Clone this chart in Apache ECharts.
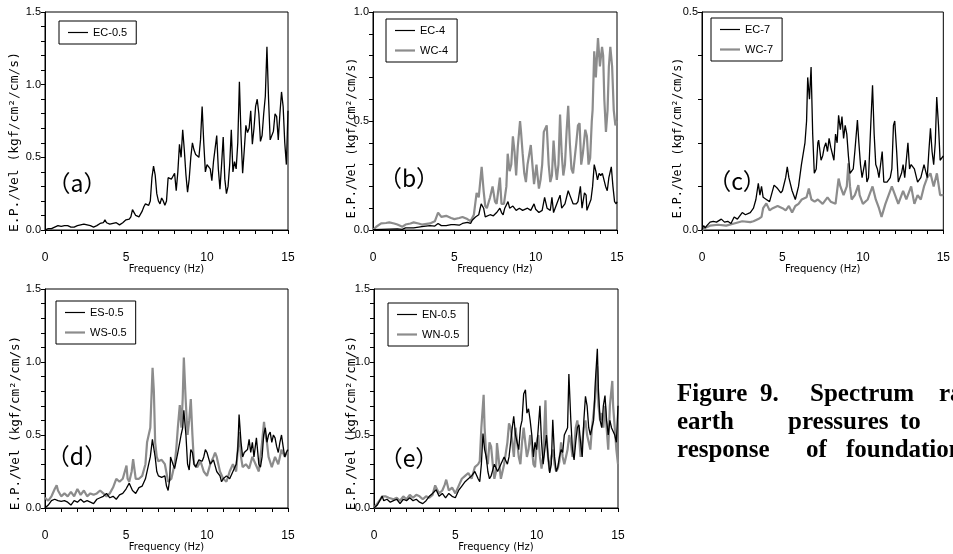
<!DOCTYPE html>
<html><head><meta charset="utf-8">
<script src="https://cdn.jsdelivr.net/npm/echarts@6/dist/echarts.min.js"></script>
<style>html,body{margin:0;padding:0;background:#fff;}#c{width:953px;height:554px;}</style>
</head><body><div id="c"></div>
<script>
// ---- data: [frequency (Hz), E.P./Vel] ----
const EC_05 = [[0,0],[0.1,0.005],[0.2,0.01],[0.3,0.01],[0.4,0.01],[0.5,0.015],[0.6,0.02],[0.7,0.03],[0.8,0.03],[0.9,0.03],
[1,0.025],[1.1,0.03],[1.2,0.03],[1.3,0.035],[1.4,0.03],[1.5,0.025],[1.6,0.02],[1.7,0.015],[1.8,0.02],[1.9,0.025],
[2,0.03],[2.1,0.025],[2.2,0.035],[2.3,0.03],[2.4,0.04],[2.5,0.045],[2.6,0.035],[2.7,0.03],[2.8,0.03],[2.9,0.025],
[3,0.02],[3.1,0.025],[3.2,0.03],[3.3,0.04],[3.4,0.045],[3.5,0.05],[3.6,0.05],[3.7,0.07],[3.8,0.05],[3.9,0.045],
[4,0.04],[4.1,0.05],[4.2,0.045],[4.3,0.04],[4.4,0.05],[4.5,0.045],[4.6,0.035],[4.7,0.035],[4.8,0.05],[4.9,0.06],
[5,0.07],[5.1,0.07],[5.2,0.075],[5.3,0.09],[5.4,0.14],[5.5,0.12],[5.6,0.1],[5.7,0.1],[5.8,0.09],[5.9,0.09],
[6,0.13],[6.1,0.16],[6.2,0.18],[6.3,0.19],[6.4,0.17],[6.5,0.2],[6.6,0.36],[6.7,0.44],[6.8,0.38],[6.9,0.25],
[7,0.2],[7.1,0.18],[7.2,0.22],[7.3,0.2],[7.4,0.17],[7.5,0.2],[7.6,0.36],[7.7,0.37],[7.8,0.35],[7.9,0.37],
[8,0.39],[8.1,0.27],[8.2,0.4],[8.3,0.59],[8.4,0.5],[8.5,0.69],[8.6,0.55],[8.7,0.38],[8.8,0.26],[8.9,0.35],
[9,0.5],[9.1,0.6],[9.2,0.55],[9.3,0.52],[9.4,0.53],[9.5,0.5],[9.6,0.62],[9.7,0.85],[9.8,0.6],[9.9,0.4],
[10,0.45],[10.1,0.44],[10.2,0.42],[10.3,0.34],[10.4,0.47],[10.5,0.48],[10.6,0.65],[10.7,0.42],[10.8,0.28],[10.9,0.45],
[11,0.64],[11.1,0.35],[11.2,0.25],[11.3,0.3],[11.4,0.45],[11.5,0.69],[11.6,0.4],[11.7,0.47],[11.8,0.42],[11.9,0.6],
[12,1.02],[12.1,0.65],[12.2,0.39],[12.3,0.55],[12.4,0.72],[12.5,0.67],[12.6,0.7],[12.7,0.82],[12.8,0.59],[12.9,0.7],
[13,0.85],[13.1,0.9],[13.2,0.8],[13.3,0.61],[13.4,0.65],[13.5,0.8],[13.6,0.92],[13.7,1.26],[13.8,0.9],[13.9,0.62],
[14,0.62],[14.1,0.68],[14.2,0.8],[14.3,0.78],[14.4,0.62],[14.5,0.8],[14.6,0.95],[14.7,0.85],[14.8,0.6],[14.9,0.45],[15,0.82]];

const EC_4 = [[0,0.002],[0.5,0.003],[1,0.004],[1.5,0.005],[1.8,0.003],[2,0.01],[2.5,0.01],[3,0.015],[3.5,0.02],[3.8,0.018],[4,0.03],[4.2,0.02],[4.5,0.02],[4.8,0.025],[5,0.025],[5.3,0.022],[5.5,0.03],[5.8,0.035],[6,0.03],[6.1,0.045],[6.3,0.06],[6.5,0.07],[6.65,0.12],[6.8,0.1],[6.9,0.06],[7,0.06],[7.2,0.07],[7.4,0.065],[7.6,0.08],[7.8,0.1],[7.9,0.08],[8,0.07],[8.1,0.1],[8.3,0.13],[8.4,0.1],[8.6,0.11],[8.8,0.09],[9,0.1],[9.2,0.09],[9.5,0.1],[9.7,0.09],[9.9,0.12],[10,0.095],[10.2,0.08],[10.4,0.09],[10.55,0.15],[10.7,0.1],[10.9,0.09],[11,0.15],[11.1,0.08],[11.3,0.12],[11.5,0.16],[11.6,0.1],[11.8,0.12],[12,0.18],[12.1,0.16],[12.3,0.12],[12.5,0.12],[12.6,0.13],[12.75,0.2],[12.85,0.1],[13,0.17],[13.1,0.16],[13.15,0.09],[13.4,0.14],[13.5,0.2],[13.6,0.3],[13.7,0.27],[13.8,0.23],[13.9,0.26],[14,0.25],[14.1,0.26],[14.3,0.2],[14.4,0.18],[14.5,0.24],[14.65,0.29],[14.75,0.2],[14.85,0.13],[14.95,0.12],[15,0.13]];

const WC_4 = [[0,0],[0.2,0.015],[0.5,0.03],[0.8,0.032],[1,0.035],[1.3,0.03],[1.5,0.025],[1.8,0.015],[2,0.025],[2.3,0.03],[2.5,0.035],[2.8,0.03],[3,0.025],[3.3,0.028],[3.5,0.03],[3.8,0.04],[4,0.08],[4.2,0.06],[4.5,0.065],[4.8,0.055],[5,0.05],[5.3,0.055],[5.5,0.06],[5.8,0.05],[6,0.04],[6.2,0.07],[6.37,0.17],[6.5,0.15],[6.68,0.29],[6.8,0.18],[6.9,0.11],[7,0.1],[7.2,0.15],[7.35,0.2],[7.5,0.13],[7.6,0.12],[7.8,0.24],[7.9,0.12],[8.05,0.12],[8.2,0.2],[8.28,0.35],[8.4,0.27],[8.5,0.3],[8.6,0.43],[8.7,0.36],[8.8,0.25],[8.9,0.38],[9.04,0.5],[9.1,0.45],[9.2,0.35],[9.3,0.26],[9.4,0.22],[9.5,0.3],[9.7,0.39],[9.8,0.3],[9.9,0.21],[10.05,0.3],[10.1,0.26],[10.2,0.19],[10.3,0.23],[10.4,0.3],[10.5,0.45],[10.68,0.48],[10.8,0.3],[10.9,0.22],[11,0.25],[11.1,0.41],[11.2,0.3],[11.3,0.23],[11.4,0.3],[11.5,0.53],[11.6,0.35],[11.7,0.25],[11.8,0.3],[11.9,0.45],[12,0.57],[12.1,0.4],[12.2,0.28],[12.3,0.26],[12.4,0.33],[12.5,0.4],[12.6,0.48],[12.7,0.49],[12.8,0.3],[12.9,0.35],[13.05,0.46],[13.15,0.43],[13.25,0.3],[13.35,0.33],[13.45,0.5],[13.5,0.55],[13.6,0.82],[13.7,0.7],[13.83,0.88],[13.95,0.75],[14.08,0.84],[14.15,0.8],[14.22,0.6],[14.32,0.45],[14.42,0.55],[14.5,0.75],[14.59,0.84],[14.7,0.75],[14.8,0.55],[14.9,0.48],[15,0.5]];

const EC_7 = [[0,0],[0.1,0.01],[0.2,0.005],[0.3,0.01],[0.5,0.018],[0.7,0.02],[0.9,0.018],[1,0.02],[1.2,0.025],[1.4,0.018],[1.6,0.02],[1.8,0.015],[2,0.03],[2.2,0.025],[2.5,0.04],[2.7,0.035],[3,0.04],[3.2,0.05],[3.35,0.07],[3.5,0.107],[3.6,0.08],[3.7,0.1],[3.8,0.075],[4,0.07],[4.2,0.065],[4.48,0.103],[4.7,0.095],[4.9,0.085],[5,0.09],[5.2,0.12],[5.3,0.145],[5.4,0.12],[5.6,0.09],[5.8,0.07],[6,0.1],[6.18,0.15],[6.3,0.15],[6.4,0.2],[6.5,0.25],[6.57,0.35],[6.68,0.3],[6.78,0.374],[6.88,0.22],[6.98,0.13],[7.1,0.14],[7.2,0.2],[7.25,0.206],[7.4,0.16],[7.5,0.17],[7.6,0.19],[7.7,0.2],[7.8,0.18],[7.9,0.21],[8,0.19],[8.2,0.16],[8.3,0.22],[8.4,0.2],[8.49,0.263],[8.6,0.23],[8.7,0.26],[8.8,0.21],[8.9,0.24],[9,0.22],[9.1,0.17],[9.2,0.13],[9.4,0.14],[9.5,0.18],[9.66,0.252],[9.75,0.2],[9.85,0.15],[9.95,0.12],[10.05,0.14],[10.15,0.16],[10.25,0.11],[10.35,0.12],[10.5,0.25],[10.6,0.332],[10.7,0.22],[10.8,0.15],[10.9,0.14],[11,0.12],[11.2,0.18],[11.3,0.11],[11.5,0.11],[11.7,0.12],[11.8,0.14],[11.9,0.24],[11.98,0.25],[12.1,0.18],[12.2,0.11],[12.4,0.13],[12.5,0.15],[12.6,0.12],[12.8,0.2],[12.9,0.14],[13,0.15],[13.2,0.14],[13.4,0.11],[13.6,0.12],[13.8,0.15],[14,0.12],[14.1,0.18],[14.2,0.233],[14.3,0.18],[14.4,0.15],[14.5,0.2],[14.59,0.305],[14.7,0.24],[14.8,0.16],[14.9,0.16],[15,0.17]];

const WC_7 = [[0,0],[0.2,0.005],[0.5,0.01],[1,0.012],[1.5,0.01],[2,0.015],[2.5,0.02],[3,0.018],[3.2,0.02],[3.5,0.025],[3.7,0.03],[3.8,0.05],[4,0.061],[4.2,0.045],[4.4,0.05],[4.7,0.055],[5,0.05],[5.2,0.045],[5.4,0.055],[5.6,0.04],[5.8,0.055],[6,0.06],[6.2,0.07],[6.5,0.075],[6.64,0.095],[6.8,0.07],[7,0.065],[7.2,0.07],[7.5,0.06],[7.8,0.075],[8,0.065],[8.3,0.06],[8.49,0.118],[8.6,0.1],[8.8,0.08],[9,0.1],[9.1,0.153],[9.2,0.1],[9.3,0.07],[9.5,0.08],[9.72,0.103],[9.8,0.08],[10,0.06],[10.3,0.07],[10.6,0.1],[10.8,0.07],[11,0.05],[11.16,0.03],[11.4,0.06],[11.6,0.08],[11.8,0.1],[12,0.08],[12.2,0.06],[12.5,0.09],[12.7,0.07],[13,0.1],[13.2,0.06],[13.4,0.08],[13.6,0.07],[13.8,0.1],[14,0.12],[14.2,0.13],[14.4,0.1],[14.6,0.13],[14.8,0.08],[15,0.08]];

const ES_05 = [[0,0],[0.2,0.02],[0.4,0.05],[0.6,0.06],[0.8,0.05],[1,0.045],[1.2,0.05],[1.4,0.04],[1.6,0.02],[1.8,0.05],[2,0.04],[2.2,0.06],[2.4,0.04],[2.6,0.05],[2.8,0.04],[3,0.03],[3.2,0.06],[3.4,0.07],[3.6,0.08],[3.8,0.1],[4,0.07],[4.2,0.08],[4.4,0.06],[4.6,0.09],[4.8,0.1],[5,0.13],[5.2,0.17],[5.4,0.12],[5.6,0.1],[5.8,0.14],[6,0.15],[6.2,0.2],[6.4,0.3],[6.5,0.35],[6.63,0.47],[6.7,0.42],[6.8,0.35],[6.9,0.25],[7,0.22],[7.2,0.21],[7.4,0.22],[7.5,0.15],[7.6,0.12],[7.7,0.2],[7.75,0.35],[7.9,0.3],[8,0.27],[8.2,0.38],[8.4,0.5],[8.5,0.55],[8.57,0.67],[8.7,0.5],[8.8,0.3],[8.9,0.26],[9,0.4],[9.1,0.38],[9.2,0.3],[9.3,0.28],[9.5,0.33],[9.7,0.32],[9.8,0.35],[9.9,0.4],[10,0.38],[10.2,0.3],[10.4,0.33],[10.6,0.25],[10.8,0.22],[10.9,0.18],[11,0.2],[11.2,0.22],[11.4,0.2],[11.6,0.25],[11.8,0.3],[11.9,0.4],[11.98,0.64],[12.1,0.45],[12.2,0.35],[12.3,0.38],[12.4,0.37],[12.5,0.4],[12.6,0.47],[12.7,0.38],[12.8,0.45],[12.9,0.35],[13.05,0.48],[13.1,0.42],[13.2,0.3],[13.3,0.28],[13.4,0.35],[13.5,0.5],[13.6,0.55],[13.7,0.45],[13.8,0.5],[13.9,0.52],[14,0.45],[14.1,0.5],[14.2,0.48],[14.3,0.42],[14.4,0.38],[14.5,0.45],[14.6,0.5],[14.7,0.42],[14.8,0.35],[14.9,0.38],[15,0.4]];

const WS_05 = [[0,0.07],[0.2,0.05],[0.4,0.08],[0.6,0.13],[0.72,0.156],[0.8,0.12],[1,0.08],[1.2,0.1],[1.4,0.08],[1.6,0.11],[1.8,0.08],[2,0.13],[2.2,0.09],[2.4,0.12],[2.6,0.08],[2.8,0.1],[3,0.09],[3.2,0.1],[3.4,0.12],[3.6,0.1],[3.8,0.08],[4,0.1],[4.2,0.14],[4.4,0.2],[4.6,0.18],[4.8,0.2],[5.03,0.29],[5.1,0.2],[5.2,0.18],[5.35,0.25],[5.44,0.334],[5.6,0.2],[5.8,0.2],[6,0.22],[6.2,0.3],[6.3,0.45],[6.4,0.5],[6.5,0.55],[6.64,0.96],[6.72,0.8],[6.8,0.45],[6.9,0.35],[7,0.32],[7.2,0.33],[7.4,0.3],[7.6,0.18],[7.8,0.2],[8,0.3],[8.1,0.4],[8.2,0.55],[8.32,0.705],[8.42,0.55],[8.5,0.75],[8.57,1.03],[8.68,0.75],[8.8,0.5],[8.9,0.6],[9,0.746],[9.1,0.5],[9.2,0.3],[9.4,0.28],[9.6,0.32],[9.8,0.25],[10,0.22],[10.2,0.3],[10.4,0.35],[10.5,0.38],[10.6,0.35],[10.8,0.25],[11,0.2],[11.2,0.18],[11.4,0.25],[11.6,0.3],[11.8,0.25],[11.9,0.4],[12,0.52],[12.1,0.35],[12.2,0.28],[12.4,0.3],[12.6,0.27],[12.8,0.35],[13,0.3],[13.2,0.25],[13.4,0.45],[13.52,0.59],[13.6,0.5],[13.7,0.45],[13.8,0.35],[14,0.28],[14.2,0.35],[14.4,0.3],[14.6,0.4],[14.8,0.35],[15,0.4]];

const EN_05 = [[0,0],[0.2,0.02],[0.4,0.06],[0.5,0.08],[0.6,0.05],[0.8,0.06],[1,0.04],[1.2,0.05],[1.4,0.06],[1.6,0.03],[1.8,0.06],[2,0.05],[2.2,0.07],[2.4,0.05],[2.6,0.06],[2.8,0.04],[3,0.03],[3.2,0.05],[3.4,0.08],[3.6,0.1],[3.82,0.125],[4,0.08],[4.2,0.1],[4.4,0.07],[4.6,0.1],[4.8,0.08],[5,0.07],[5.2,0.12],[5.4,0.15],[5.6,0.18],[5.8,0.2],[6,0.22],[6.2,0.25],[6.4,0.2],[6.5,0.18],[6.6,0.3],[6.7,0.51],[6.8,0.4],[6.9,0.35],[7,0.25],[7.1,0.2],[7.2,0.22],[7.4,0.3],[7.6,0.25],[7.8,0.3],[8,0.35],[8.2,0.3],[8.3,0.35],[8.5,0.55],[8.59,0.628],[8.7,0.5],[8.8,0.45],[8.9,0.4],[9,0.55],[9.1,0.6],[9.2,0.78],[9.31,0.81],[9.4,0.65],[9.5,0.68],[9.6,0.6],[9.7,0.5],[9.8,0.35],[9.9,0.45],[10,0.4],[10.1,0.55],[10.2,0.7],[10.3,0.45],[10.4,0.3],[10.5,0.4],[10.6,0.5],[10.7,0.35],[10.8,0.24],[10.9,0.3],[10.99,0.605],[11.1,0.35],[11.2,0.25],[11.3,0.28],[11.4,0.35],[11.5,0.4],[11.6,0.38],[11.7,0.5],[11.8,0.5],[11.9,0.55],[11.98,0.918],[12.1,0.6],[12.2,0.4],[12.3,0.33],[12.4,0.45],[12.5,0.55],[12.6,0.57],[12.7,0.45],[12.8,0.35],[12.9,0.6],[13,0.765],[13.1,0.7],[13.2,0.55],[13.3,0.5],[13.4,0.5],[13.5,0.6],[13.6,0.85],[13.73,1.09],[13.8,0.8],[13.9,0.6],[14,0.55],[14.1,0.7],[14.2,0.77],[14.3,0.6],[14.4,0.5],[14.5,0.6],[14.6,0.55],[14.7,0.55],[14.8,0.5],[14.9,0.45],[15,0.7]];

const WN_05 = [[0,0],[0.2,0.03],[0.4,0.06],[0.5,0.08],[0.7,0.08],[0.9,0.07],[1,0.08],[1.2,0.06],[1.4,0.07],[1.6,0.05],[1.8,0.08],[2,0.06],[2.2,0.09],[2.4,0.07],[2.6,0.09],[2.8,0.08],[3,0.06],[3.2,0.08],[3.4,0.07],[3.6,0.09],[3.76,0.155],[4,0.1],[4.2,0.12],[4.35,0.16],[4.44,0.194],[4.6,0.12],[4.8,0.14],[5,0.1],[5.2,0.15],[5.4,0.2],[5.6,0.22],[5.8,0.24],[6,0.2],[6.2,0.28],[6.4,0.3],[6.5,0.32],[6.6,0.55],[6.74,0.776],[6.8,0.55],[6.9,0.35],[7,0.3],[7.1,0.45],[7.2,0.42],[7.3,0.3],[7.4,0.2],[7.5,0.25],[7.56,0.445],[7.7,0.3],[7.8,0.2],[8,0.3],[8.2,0.45],[8.3,0.58],[8.4,0.55],[8.5,0.45],[8.6,0.35],[8.7,0.55],[8.8,0.45],[8.9,0.35],[9,0.3],[9.1,0.45],[9.2,0.55],[9.3,0.45],[9.4,0.35],[9.5,0.4],[9.6,0.5],[9.7,0.42],[9.8,0.3],[9.9,0.28],[10,0.45],[10.1,0.5],[10.2,0.35],[10.3,0.27],[10.4,0.35],[10.54,0.737],[10.6,0.5],[10.7,0.35],[10.8,0.25],[10.9,0.35],[11,0.4],[11.1,0.3],[11.2,0.25],[11.3,0.27],[11.4,0.32],[11.5,0.45],[11.6,0.35],[11.7,0.3],[11.8,0.35],[11.9,0.4],[12,0.5],[12.1,0.45],[12.2,0.35],[12.3,0.4],[12.4,0.55],[12.5,0.6],[12.6,0.5],[12.7,0.35],[12.8,0.45],[12.9,0.55],[13,0.6],[13.1,0.5],[13.2,0.45],[13.3,0.4],[13.4,0.55],[13.5,0.65],[13.6,0.75],[13.72,0.97],[13.8,0.7],[13.9,0.6],[14,0.65],[14.1,0.55],[14.2,0.7],[14.3,0.55],[14.4,0.4],[14.5,0.7],[14.65,0.87],[14.7,0.7],[14.8,0.55],[14.9,0.4],[15,0.3]];

const panelLabels = ['（a）','（b）','（c）','（d）','（e）'];
const yMax = [1.5, 1.0, 0.5, 1.5, 1.5];
const xTitle = 'Frequency (Hz)';
const yTitle = 'E.P./Vel (kgf/cm²/cm/s)';
const captionLines = [['Figure','9.','Spectrum','ratio of'],['earth','pressures','to'],['response','of','foundation']];

// ---- layout ----
const grids = [
  {left:45, top:12, width:243, height:218},
  {left:373, top:12, width:244, height:218},
  {left:702, top:12, width:244, height:218},
  {left:45, top:289, width:243, height:219},
  {left:374, top:289, width:244, height:219}
];
const panelSeries = [
  [{name:'EC-0.5', data:EC_05, dark:true}],
  [{name:'WC-4', data:WC_4, dark:false},{name:'EC-4', data:EC_4, dark:true}],
  [{name:'WC-7', data:WC_7, dark:false},{name:'EC-7', data:EC_7, dark:true}],
  [{name:'WS-0.5', data:WS_05, dark:false},{name:'ES-0.5', data:ES_05, dark:true}],
  [{name:'WN-0.5', data:WN_05, dark:false},{name:'EN-0.5', data:EN_05, dark:true}]
];
const legendOrder = [['EC-0.5'],['EC-4','WC-4'],['EC-7','WC-7'],['ES-0.5','WS-0.5'],['EN-0.5','WN-0.5']];
const legendPos = [[59,21],[386,19],[711,18],[56,301],[388,303]];
const labelPos = [[77,183],[409,178],[737,181],[77,456],[409,458]];
const yTitlePos = [[15,142,13],[352,138,11.6],[678,138,11.6],[16,423,12.6],[352,423,12.6]];

const BLACK = '#000', GRAY = '#8c8c8c';
const sans = 'Liberation Sans, Arial, sans-serif';
const ICON_THIN = 'path://M0,0H40V2.4H0Z';
const ICON_THICK = 'path://M0,0H40V4.4H0Z';

const option = {
  animation:false,
  backgroundColor:'#fff',
  grid: grids.map(g => Object.assign({show:true, borderColor:'#000', borderWidth:1, backgroundColor:'transparent', containLabel:false}, g)),
  xAxis: grids.map((g,i)=>({
    gridIndex:i, type:'value', min:0, max:15, interval:5,
    axisLine:{show:true, onZero:false, lineStyle:{color:'#000', width:1}},
    axisTick:{show:true, length:4, lineStyle:{color:'#000'}},
    minorTick:{show:true, splitNumber:5, length:4, lineStyle:{color:'#000'}},
    splitLine:{show:false}, minorSplitLine:{show:false},
    axisLabel:{margin:22, fontSize:12, color:'#000', fontFamily:sans},
    name:xTitle, nameLocation:'middle', nameGap:33,
    nameTextStyle:{fontSize:10, color:'#000', fontFamily:'DejaVu Sans, sans-serif'}
  })),
  yAxis: grids.map((g,i)=>({
    gridIndex:i, type:'value', min:0, max:yMax[i], interval:0.5,
    axisLine:{show:true, onZero:false, lineStyle:{color:'#000', width:1}},
    axisTick:{show:true, length:4, lineStyle:{color:'#000'}},
    minorTick:{show:true, splitNumber:5, length:4, lineStyle:{color:'#000'}},
    splitLine:{show:false}, minorSplitLine:{show:false},
    axisLabel:{margin:4, fontSize:11, color:'#000', fontFamily:sans, formatter:v=>v.toFixed(1)}
  })),
  legend: legendOrder.map((names,i)=>({
    data:names.map(n=>({name:n, icon:(n[0]==='E'?ICON_THIN:ICON_THICK)})),
    orient:'vertical', left:legendPos[i][0], top:legendPos[i][1],
    itemWidth:20, itemHeight:12, itemGap:9, padding:[6,9,6,9], symbolKeepAspect:true,
    borderColor:'#000', borderWidth:1, backgroundColor:'#fff',
    textStyle:{fontSize:11, color:'#000', fontFamily:sans},
    selectedMode:false
  })),
  series: [],
  graphic: []
};

panelSeries.forEach((list,i)=>{
  list.forEach(s=>{
    option.series.push({
      name:s.name, type:'line', xAxisIndex:i, yAxisIndex:i, data:s.data,
      symbol:'none', showSymbol:false, clip:true,
      lineStyle:{color:s.dark?BLACK:GRAY, width:s.dark?1.3:2.2},
      itemStyle:{color:s.dark?BLACK:GRAY},
      z: s.dark?3:2
    });
  });
});

panelLabels.forEach((t,i)=>{
  option.graphic.push({type:'text', x:labelPos[i][0], y:labelPos[i][1], z:10,
    style:{text:t, fontSize:23, fill:'#000', fontFamily:'Noto Sans CJK JP, sans-serif', align:'center', verticalAlign:'middle'}});
});
yTitlePos.forEach((p,i)=>{
  option.graphic.push({type:'text', x:p[0], y:p[1], rotation:Math.PI/2, z:10,
    style:{text:yTitle, fontSize:p[2], fill:'#000', fontFamily:'DejaVu Sans Mono, monospace', align:'center', verticalAlign:'middle'}});
});
const capX = [[677,760,810,939],[677,788,900],[677,806,846]];
const capY = [395,423,451];
captionLines.forEach((words,li)=>{
  words.forEach((w,wi)=>{
    option.graphic.push({type:'text', x:capX[li][wi], y:capY[li], z:10,
      style:{text:w, fontSize:25, fontWeight:'bold', fill:'#000', fontFamily:'Liberation Serif, Times New Roman, serif', align:'left', verticalAlign:'middle'}});
  });
});

const chart = echarts.init(document.getElementById('c'), null, {renderer:'canvas'});
chart.setOption(option);
</script>
</body></html>
